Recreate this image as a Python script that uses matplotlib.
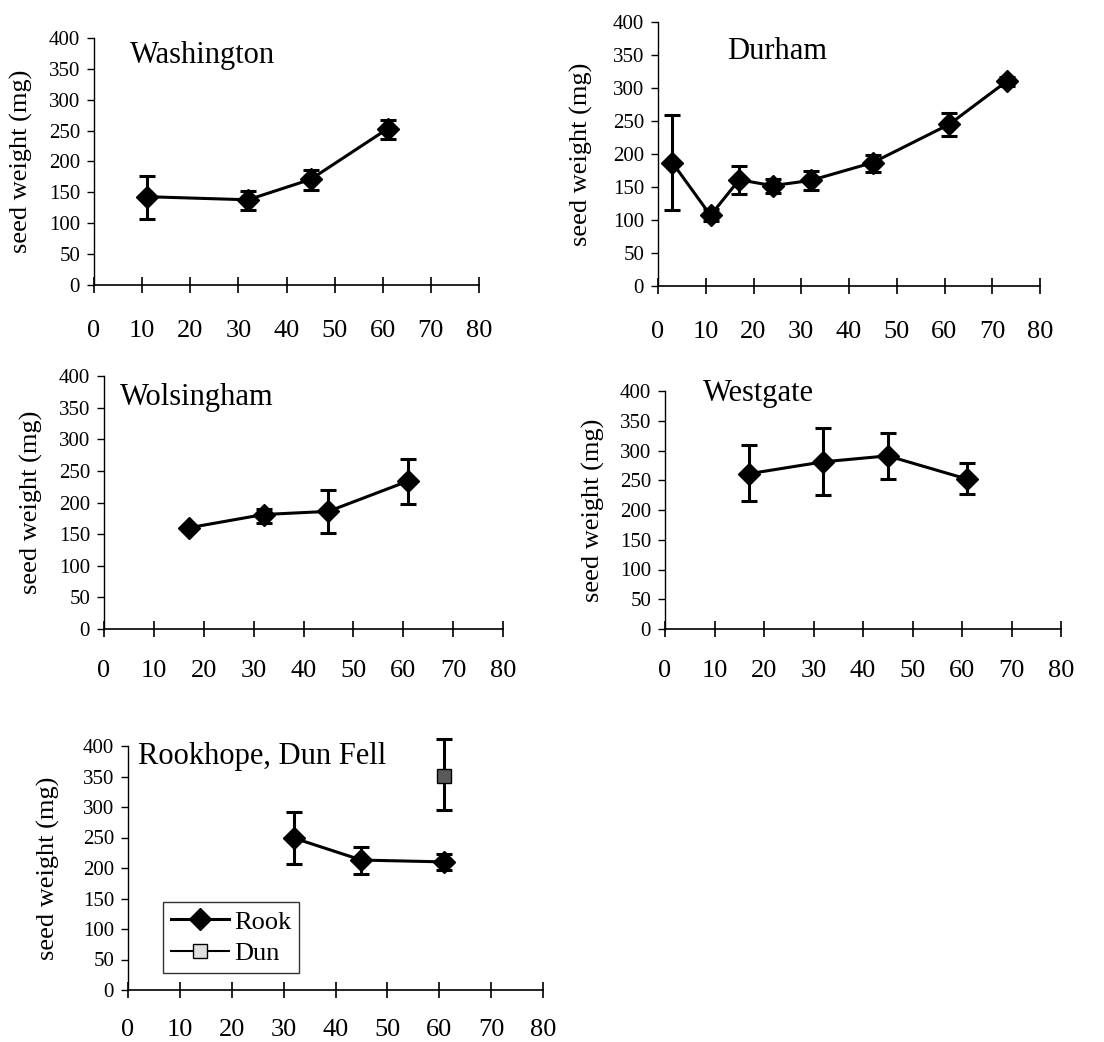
# seed weight vs. site panels, redrawn from the scanned figure
import matplotlib.pyplot as plt
from matplotlib.lines import Line2D

plt.rcParams['font.family'] = ['Liberation Serif', 'DejaVu Serif']

# Washington
wash_x = [11, 32, 45, 61]
wash_y = [143, 138, 171, 253]
wash_lo = [107, 121, 154, 237]
wash_hi = [177, 153, 186, 268]

# Durham
dur_x = [3, 11, 17, 24, 32, 45, 61, 73]
dur_y = [187, 107, 161, 152, 160, 187, 245, 310]
dur_lo = [115, 98, 140, 141, 145, 173, 228, 303]
dur_hi = [259, 116, 182, 162, 174, 199, 262, 317]

# Wolsingham
wol_x = [17, 32, 45, 61]
wol_y = [160, 181, 186, 234]
wol_lo = [157, 167, 151, 198]
wol_hi = [163, 190, 219, 269]

# Westgate
west_x = [17, 32, 45, 61]
west_y = [261, 281, 291, 252]
west_lo = [215, 225, 252, 227]
west_hi = [309, 337, 329, 279]

# Rookhope and Dun Fell
rook_x = [32, 45, 61]
rook_y = [249, 213, 210]
rook_lo = [207, 190, 197]
rook_hi = [292, 235, 223]
dun_x = [61]
dun_y = [351]
dun_lo = [295]
dun_hi = [411]

xticks = [0, 10, 20, 30, 40, 50, 60, 70, 80]
yticks = [0, 50, 100, 150, 200, 250, 300, 350, 400]

W, H = 1104, 1042
fig = plt.figure(figsize=(W / 100, H / 100), dpi=100)


def make_ax(left, right, top, bottom, xpad=15):
    ax = fig.add_axes([left / W, 1 - bottom / H, (right - left) / W, (bottom - top) / H])
    ax.set_xlim(0, 80)
    ax.set_ylim(0, 400)
    ax.set_xticks(xticks)
    ax.set_yticks(yticks)
    ax.spines['top'].set_visible(False)
    ax.spines['right'].set_visible(False)
    ax.spines['left'].set_linewidth(1)
    ax.spines['bottom'].set_linewidth(1.2)
    ax.tick_params(axis='x', direction='inout', length=12, width=1.2, pad=xpad, labelsize=19)
    ax.tick_params(axis='y', direction='out', length=5, width=1, pad=5, labelsize=15)
    ax.set_ylabel('seed weight (mg)', fontsize=19)
    return ax


def draw(ax, x, y, lo, hi, **kw):
    err = [[v - l for v, l in zip(y, lo)], [h - v for v, h in zip(y, hi)]]
    return ax.errorbar(x, y, yerr=err, color='black', lw=2.2, elinewidth=2.2,
                       capsize=6, capthick=2.2, clip_on=False, **kw)


# Washington
ax1 = make_ax(94, 479, 38, 285, xpad=19)
draw(ax1, wash_x, wash_y, wash_lo, wash_hi, marker='D', ms=11)
ax1.text(0.094, 0.93, 'Washington', transform=ax1.transAxes, fontsize=22, va='center')
ax1.yaxis.set_label_coords(-0.158, 0.5)

# Durham
ax2 = make_ax(658, 1040, 22, 286, xpad=19)
draw(ax2, dur_x, dur_y, dur_lo, dur_hi, marker='D', ms=11)
ax2.text(0.18, 0.89, 'Durham', transform=ax2.transAxes, fontsize=22, va='center')
ax2.yaxis.set_label_coords(-0.17, 0.5)

# Wolsingham
ax3 = make_ax(104, 503, 376, 629, xpad=16)
draw(ax3, wol_x, wol_y, wol_lo, wol_hi, marker='D', ms=11)
ax3.text(0.04, 0.915, 'Wolsingham', transform=ax3.transAxes, fontsize=22, va='center')
ax3.yaxis.set_label_coords(-0.153, 0.5)

# Westgate
ax4 = make_ax(665, 1061, 391, 629, xpad=16)
draw(ax4, west_x, west_y, west_lo, west_hi, marker='D', ms=11)
ax4.text(0.096, 0.99, 'Westgate', transform=ax4.transAxes, fontsize=22, va='center')
ax4.yaxis.set_label_coords(-0.152, 0.5)

# Rookhope, Dun Fell
ax5 = make_ax(128, 543, 746, 990, xpad=15)
draw(ax5, rook_x, rook_y, rook_lo, rook_hi, marker='D', ms=11)
draw(ax5, dun_x, dun_y, dun_lo, dun_hi, marker='s', ms=10, mfc='#5a5a5a', mec='black')
ax5.text(0.024, 0.955, 'Rookhope, Dun Fell', transform=ax5.transAxes, fontsize=22, va='center')
ax5.yaxis.set_label_coords(-0.164, 0.5)
handles = [Line2D([], [], color='black', lw=2.2, marker='D', ms=11),
           Line2D([], [], color='black', lw=1.5, marker='s', ms=10, mfc='#e0e0e0', mec='black')]
leg = ax5.legend(handles, ['Rook', 'Dun'], loc='lower left',
                 bbox_to_anchor=(163 / W, 1 - 973 / H), bbox_transform=fig.transFigure,
                 fontsize=19, frameon=True, fancybox=False, edgecolor='black', borderaxespad=0,
                 handlelength=2.2, handletextpad=0.2, borderpad=0.3, labelspacing=0.3)
leg.get_frame().set_linewidth(1)

fig.savefig('out.png', dpi=100, facecolor='white')
